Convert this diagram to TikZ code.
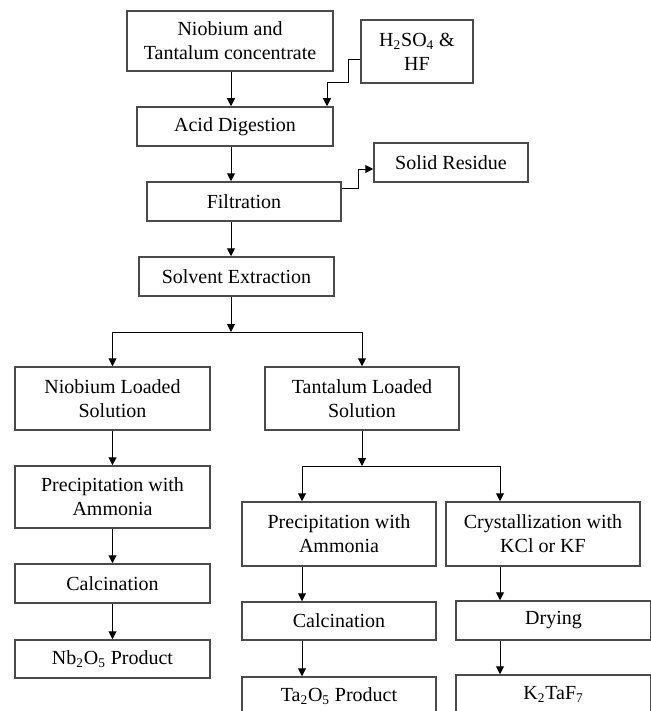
\documentclass[tikz,border=0pt]{standalone}
\usepackage{fontspec}
\setmainfont{Liberation Serif}
\usetikzlibrary{arrows.meta,calc}

\tikzset{
  box/.style={draw=boxgray, line width=0.9pt, align=center, inner sep=0pt},
  arr/.style={-{Triangle[length=4.8pt,width=4.8pt]}, line width=0.6pt, draw=black},
}

\begin{document}
\begin{tikzpicture}[x=0.6pt, y=-0.6pt, font=\fontsize{12}{14.4}\selectfont]
\definecolor{boxgray}{HTML}{4A4A4A}
\useasboundingbox (0,0) rectangle (651,711);
\clip (0,0) rectangle (651,711);
% top of the chain
\node[box, minimum width=206*0.6pt, minimum height=60*0.6pt] (conc) at (230,41) {Niobium and\\Tantalum concentrate};
\node[box, minimum width=112*0.6pt, minimum height=63*0.6pt] (acids) at (417,51.5) {H\textsubscript{2}SO\textsubscript{4} \&\\HF};
\node[box, minimum width=196*0.6pt, minimum height=39*0.6pt] (dig) at (235,126.5) {Acid Digestion};
\node[box, minimum width=154*0.6pt, minimum height=39*0.6pt] (resid) at (451,162.5) {Solid Residue};
\node[box, minimum width=194*0.6pt, minimum height=39*0.6pt] (filt) at (244,201.5) {Filtration};
\node[box, minimum width=195*0.6pt, minimum height=39*0.6pt] (solv) at (236.5,276.5) {Solvent Extraction};
% niobium branch
\node[box, minimum width=195*0.6pt, minimum height=63*0.6pt] (nbload) at (112.5,398.5) {Niobium Loaded\\Solution};
\node[box, minimum width=195*0.6pt, minimum height=62*0.6pt] (nbprec) at (112.5,497) {Precipitation with\\Ammonia};
\node[box, minimum width=195*0.6pt, minimum height=39*0.6pt] (nbcalc) at (112.5,583.5) {Calcination};
\node[box, minimum width=195*0.6pt, minimum height=38*0.6pt] (nbprod) at (112.5,659) {Nb\textsubscript{2}O\textsubscript{5} Product};
% tantalum branch
\node[box, minimum width=194*0.6pt, minimum height=63*0.6pt] (taload) at (362,398.5) {Tantalum Loaded\\Solution};
\node[box, minimum width=194*0.6pt, minimum height=64*0.6pt] (taprec) at (339,534) {Precipitation with\\Ammonia};
\node[box, minimum width=194*0.6pt, minimum height=64*0.6pt] (cryst) at (543,534) {Crystallization with\\KCl or KF};
\node[box, minimum width=194*0.6pt, minimum height=38*0.6pt] (tacalc) at (339,621) {Calcination};
\node[box, minimum width=195*0.6pt, minimum height=39*0.6pt] (dry) at (553.5,620.5) {Drying};
\node[box, minimum width=194*0.6pt, minimum height=38*0.6pt] (taprod) at (339,696) {Ta\textsubscript{2}O\textsubscript{5} Product};
\node[box, minimum width=195*0.6pt, minimum height=39*0.6pt] (ktaf) at (553.5,694.5) {K\textsubscript{2}TaF\textsubscript{7}};
% helper points
\coordinate (maincol) at (231,0);
\coordinate (split1) at (231,332);
\coordinate (split2) at (362,466);
\coordinate (tacol) at (302,0);
\coordinate (crcol) at (500,0);
% connectors
\draw[arr] (conc.south -| maincol) -- (dig.north -| maincol);
\draw[arr] ([yshift=-5.1pt]acids.west) -| ++(-12,23) -| ([xshift=55.2pt]dig.north);
\draw[arr] (dig.south -| maincol) -- (filt.north -| maincol);
\draw[arr] ([yshift=8.1pt]filt.east) -- ++(17,0) |- ([yshift=-3.9pt]resid.west);
\draw[arr] (filt.south -| maincol) -- (solv.north -| maincol);
\draw[arr] (solv.south -| maincol) -- (split1);
\draw[arr] (split1) -| (nbload.north);
\draw[arr] (split1) -| (taload.north);
\draw[arr] (nbload.south) -- (nbprec.north);
\draw[arr] (nbprec.south) -- (nbcalc.north);
\draw[arr] (nbcalc.south) -- (nbprod.north);
\draw[arr] (taload.south) -- (split2);
\draw[arr] (split2) -| (taprec.north -| tacol);
\draw[arr] (split2) -| (cryst.north -| crcol);
\draw[arr] (taprec.south -| tacol) -- (tacalc.north -| tacol);
\draw[arr] (tacalc.south -| tacol) -- (taprod.north -| tacol);
\draw[arr] (cryst.south -| crcol) -- (dry.north -| crcol);
\draw[arr] (dry.south -| crcol) -- (ktaf.north -| crcol);
\end{tikzpicture}
\end{document}
